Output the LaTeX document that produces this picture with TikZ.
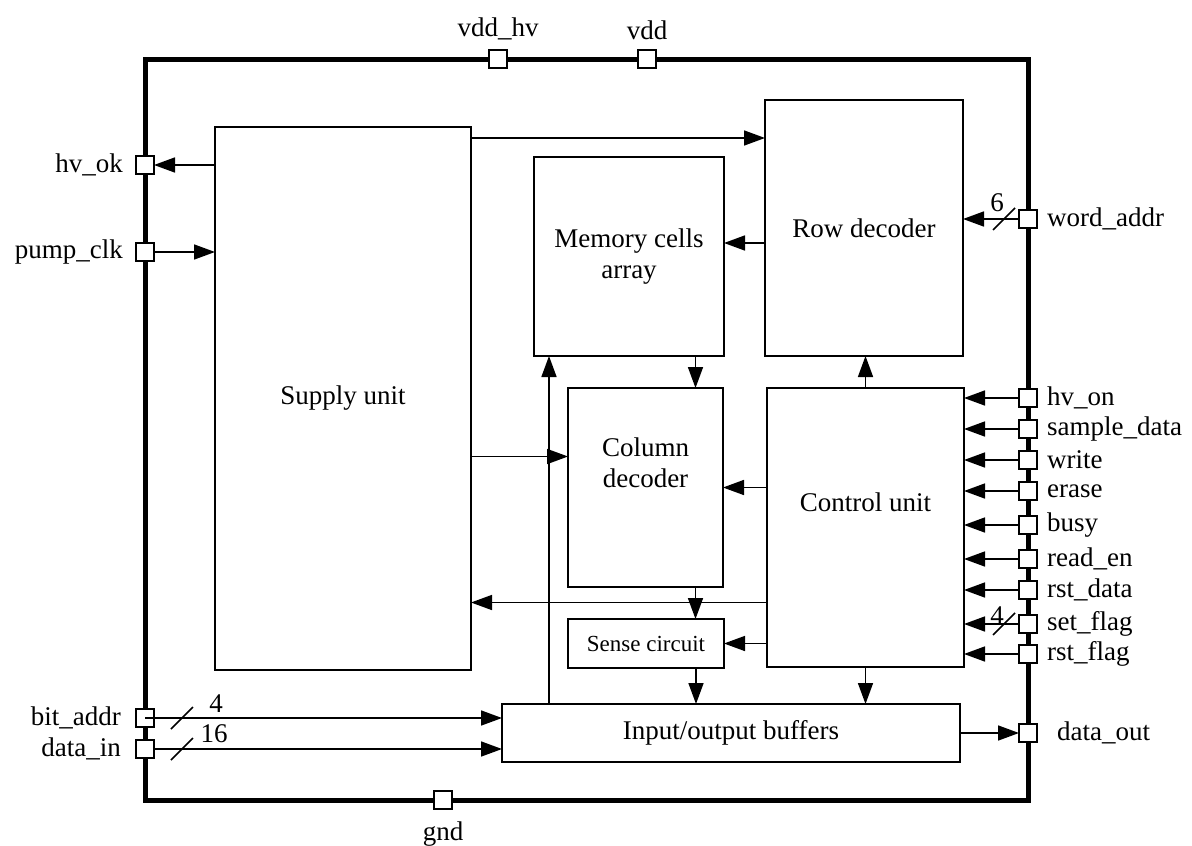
\documentclass[tikz,border=0pt]{standalone}
\usepackage{fontspec}
\setmainfont{Liberation Serif}
\usetikzlibrary{arrows.meta}
\begin{document}
\begin{tikzpicture}[x=1pt,y=-1pt,
  every node/.style={font=\fontsize{27}{31}\selectfont},
  blk/.style={draw,line width=1.6pt,inner sep=0pt,outer sep=0pt,anchor=north west,align=center},
  pbox/.style={draw,fill=white,line width=1.5pt,minimum size=18pt,inner sep=0pt,outer sep=0pt},
  lbl/.style={inner sep=0pt},
  arr/.style={line width=1.6pt,-{Triangle[length=21pt,width=15pt]}},
  slash/.style={line width=1.5pt}]
\useasboundingbox (0,0) rectangle (1192,846);
% frame
\draw[line width=5pt] (145,59) rectangle (1028,800);
% blocks
\node[blk,minimum width=256pt,minimum height=543pt] (sup) at (215,127) {Supply unit};
\node[blk,minimum width=198pt,minimum height=256pt] (row) at (765,100) {Row decoder};
\node[blk,minimum width=190pt,minimum height=199pt] (mem) at (534,157) {Memory cells\\array};
\node[blk,minimum width=155pt,minimum height=199pt] (col) at (568,388) {};
\node[lbl,align=center] (colt) at ([yshift=25]col.center) {Column\\decoder};
\node[blk,minimum width=197pt,minimum height=279pt] (ctrl) at (767,388) {};
\node[lbl] (ctrlt) at ([yshift=25]ctrl.center) {Control unit};
\node[blk,minimum width=156pt,minimum height=49pt,font=\fontsize{23}{27}\selectfont] (sense) at (568,619) {Sense circuit};
\node[blk,minimum width=458pt,minimum height=58pt] (io) at (502,704) {Input/output buffers};
% pins
\node[pbox] (p_vddhv) at (498,59) {};
\node[pbox] (p_vdd) at (647,59) {};
\node[pbox] (p_gnd) at (443,800) {};
\node[pbox] (p_hvok) at (145,165) {};
\node[pbox] (p_pump) at (145,252) {};
\node[pbox] (p_bit) at (145,718) {};
\node[pbox] (p_din) at (145,749) {};
\node[pbox] (p_word) at (1028,219) {};
\node[pbox] (p_hvon) at (1028,398) {};
\node[pbox] (p_sample) at (1028,429) {};
\node[pbox] (p_write) at (1028,460) {};
\node[pbox] (p_erase) at (1028,491) {};
\node[pbox] (p_busy) at (1028,525) {};
\node[pbox] (p_read) at (1028,559) {};
\node[pbox] (p_rstd) at (1028,590) {};
\node[pbox] (p_setf) at (1028,624) {};
\node[pbox] (p_rstf) at (1028,654) {};
\node[pbox] (p_dout) at (1028,733) {};
% pin labels
\node[lbl,anchor=south] (l_vddhv) at ([yshift=10]p_vddhv.north) {vdd\_hv};
\node[lbl,anchor=south] (l_vdd) at ([yshift=10]p_vdd.north) {vdd};
\node[lbl,anchor=north] (l_gnd) at ([yshift=-13]p_gnd.south) {gnd};
\node[lbl,anchor=east] (l_hvok) at ([xshift=-13]p_hvok.west) {hv\_ok};
\node[lbl,anchor=east] (l_pump) at ([xshift=-13]p_pump.west) {pump\_clk};
\node[lbl,anchor=east] (l_bit) at ([xshift=-15]p_bit.west) {bit\_addr};
\node[lbl,anchor=east] (l_din) at ([xshift=-15]p_din.west) {data\_in};
\node[lbl,anchor=west] (l_word) at ([xshift=10]p_word.east) {word\_addr};
\node[lbl,anchor=west] (l_hvon) at ([xshift=10]p_hvon.east) {hv\_on};
\node[lbl,anchor=west] (l_sample) at ([xshift=10]p_sample.east) {sample\_data};
\node[lbl,anchor=west] (l_write) at ([xshift=10]p_write.east) {write};
\node[lbl,anchor=west] (l_erase) at ([xshift=10]p_erase.east) {erase};
\node[lbl,anchor=west] (l_busy) at ([xshift=10]p_busy.east) {busy};
\node[lbl,anchor=west] (l_read) at ([xshift=10]p_read.east) {read\_en};
\node[lbl,anchor=west] (l_rstd) at ([xshift=10]p_rstd.east) {rst\_data};
\node[lbl,anchor=west] (l_setf) at ([xshift=10]p_setf.east) {set\_flag};
\node[lbl,anchor=west] (l_rstf) at ([xshift=10]p_rstf.east) {rst\_flag};
\node[lbl,anchor=west] (l_dout) at ([xshift=20]p_dout.east) {data\_out};
% connectors
\draw[arr] (p_hvok -| sup.west) -- (p_hvok.east);
\draw[arr] (p_pump.east) -- (p_pump -| sup.west);
\draw[arr] ([yshift=-11]sup.north east) -- ([yshift=-11]sup.north east -| row.west);
\draw[arr] ([yshift=-15]row.west) -- ([yshift=-15]row.west -| mem.east);
\draw[arr] ([xshift=50]col.north |- mem.south) -- ([xshift=50]col.north);
\draw[arr] ([xshift=15]mem.south west |- io.north) -- ([xshift=15]mem.south west);
\draw[arr] ([yshift=-58]sup.east) -- ([yshift=-58]sup.east -| col.west);
\draw[arr] (ctrl.north) -- (ctrl.north |- row.south);
\draw[arr] ([yshift=40]ctrl.west) -- ([yshift=40]ctrl.west -| col.east);
\draw[arr] ([yshift=-75]ctrl.west) -- ([yshift=-75]ctrl.west -| sup.east);
\draw[arr] (ctrl.west |- sense.east) -- (sense.east);
\draw[arr] ([xshift=50]col.south) -- ([xshift=50]col.south |- sense.north);
\draw[arr] ([xshift=50]sense.south) -- ([xshift=50]sense.south |- io.north);
\draw[arr] (ctrl.south) -- (ctrl.south |- io.north);
\draw[arr] (io.east |- p_dout) -- (p_dout.west);
\draw[arr] (p_bit.center) -- (p_bit -| io.west);
\draw[arr] (p_din.east) -- (p_din -| io.west);
\draw[arr] (p_word.west) -- (p_word -| row.east);
\foreach \p in {p_hvon,p_sample,p_write,p_erase,p_busy,p_read,p_rstd,p_setf,p_rstf}
  \draw[arr] (\p.west) -- (\p -| ctrl.east);
% bus slashes and widths
\draw[slash] ([xshift=26,yshift=-11]p_bit.center) -- ([xshift=48,yshift=11]p_bit.center);
\draw[slash] ([xshift=26,yshift=-11]p_din.center) -- ([xshift=48,yshift=11]p_din.center);
\draw[slash] ([xshift=-35,yshift=-11]p_word.center) -- ([xshift=-13,yshift=11]p_word.center);
\draw[slash] ([xshift=-35,yshift=-11]p_setf.center) -- ([xshift=-13,yshift=11]p_setf.center);
\node[lbl] (w_bit) at ([xshift=71,yshift=14]p_bit.center) {4};
\node[lbl] (w_din) at ([xshift=69,yshift=15]p_din.center) {16};
\node[lbl] (w_word) at ([xshift=-31,yshift=16]p_word.center) {6};
\node[lbl] (w_setf) at ([xshift=-31,yshift=8]p_setf.center) {4};
\end{tikzpicture}
\end{document}
